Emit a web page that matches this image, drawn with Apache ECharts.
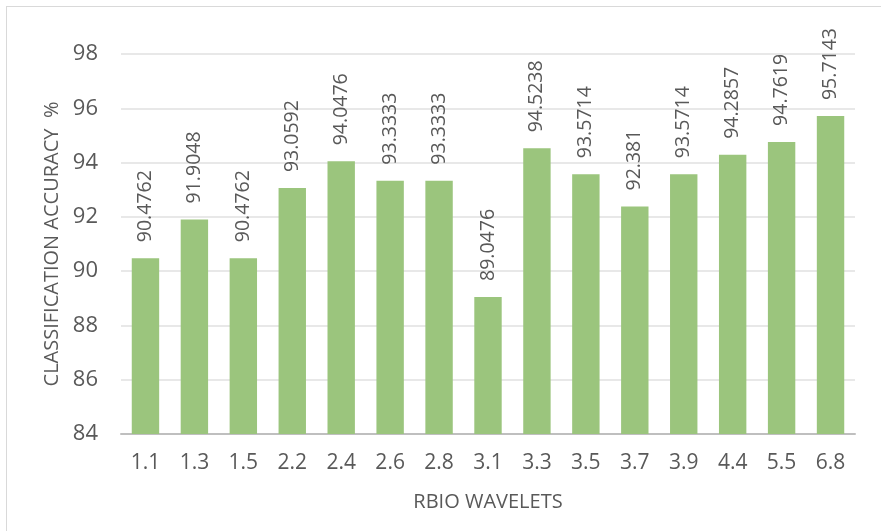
<!DOCTYPE html>
<html>
<head>
<meta charset="utf-8">
<script src="https://cdn.jsdelivr.net/npm/echarts@6/dist/echarts.min.js"></script>
<style>
  html, body { margin: 0; padding: 0; background: #ffffff; }
  #frame { position: absolute; left: 6px; top: 6px; width: 900px; height: 560px;
           border: 1px solid #d9d9d9; box-sizing: border-box; }
  #chart { position: absolute; left: 0; top: 0; width: 881px; height: 531px; }
</style>
</head>
<body>
<div id="frame"></div>
<div id="chart"></div>
<script>
// RBIO wavelet variants and their classification accuracy (%)
const wavelets = ['1.1', '1.3', '1.5', '2.2', '2.4', '2.6', '2.8', '3.1', '3.3', '3.5', '3.7', '3.9', '4.4', '5.5', '6.8'];
const accuracy = [90.4762, 91.9048, 90.4762, 93.0592, 94.0476, 93.3333, 93.3333, 89.0476, 94.5238, 93.5714, 92.381, 93.5714, 94.2857, 94.7619, 95.7143];
const yMin = 84, yMax = 98, yStep = 2;

const textColor = '#595959';
const fontFamily = '"Open Sans", "Noto Sans", sans-serif';

const chart = echarts.init(document.getElementById('chart'), null, { renderer: 'canvas' });
chart.setOption({
  animation: false,
  grid: { left: 121, right: 26, top: 54, bottom: 97, containLabel: false },
  xAxis: {
    type: 'category',
    data: wavelets,
    name: 'RBIO WAVELETS',
    nameLocation: 'middle',
    nameGap: 58,
    nameTextStyle: { color: textColor, fontSize: 20, fontFamily },
    axisLine: { lineStyle: { color: '#bfbfbf', width: 2 } },
    axisTick: { show: false },
    axisLabel: { color: textColor, fontSize: 21, fontFamily, margin: 19 }
  },
  yAxis: {
    type: 'value',
    min: yMin, max: yMax, interval: yStep,
    name: 'CLASSIFICATION ACCURACY  %',
    nameLocation: 'middle',
    nameGap: 59,
    nameTextStyle: { color: textColor, fontSize: 20, fontFamily },
    axisLine: { show: false },
    axisTick: { show: false },
    axisLabel: { color: textColor, fontSize: 22, fontFamily, margin: 23 },
    splitLine: { lineStyle: { color: '#e8e8e8', width: 2 } }
  },
  series: [{
    type: 'bar',
    data: accuracy,
    barWidth: '56%',
    itemStyle: { color: '#9bc57d' },
    label: {
      show: true,
      position: 'top',
      rotate: 90,
      align: 'left',
      verticalAlign: 'middle',
      distance: 16,
      color: textColor,
      fontSize: 19.5,
      fontFamily,
      formatter: p => String(p.value)
    }
  }]
});
</script>
</body>
</html>
